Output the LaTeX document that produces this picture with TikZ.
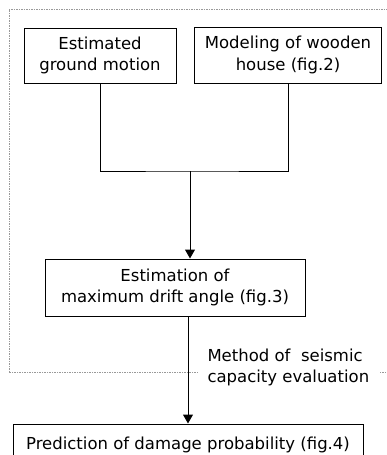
\documentclass[tikz,border=0pt]{standalone}
\usepackage{fontspec}
\setmainfont{DejaVu Sans}
\usetikzlibrary{positioning, arrows.meta}

\begin{document}
\begin{tikzpicture}[x=1pt, y=-1pt, >={Triangle[length=9pt, width=10pt]}, line width=1pt,
  block/.style={draw, align=center, inner sep=0pt},
  every node/.style={font=\fontsize{16.5}{21.5}\selectfont}]
\useasboundingbox (0,0) rectangle (387,455);
\clip (0,0) rectangle (387,455);
% Marco
\draw[gray!80, line width=0.6pt, dash pattern=on 1.5pt off 1pt] (9,372) -- (9,9) -- (397,9) -- (397,372) -- cycle;
% Bloques
\node[block, minimum width=152pt, minimum height=55pt] (ground) at (100,55.5) {Estimated\\ground motion};
\node[block, minimum width=187pt, minimum height=56pt] (house) at (288,55) {Modeling of wooden\\house (fig.2)};
\node[block, minimum width=260pt, minimum height=57pt] (drift) at (175,287.5) {Estimation of\\maximum drift angle (fig.3)};
\node[block, minimum width=350pt, minimum height=42pt] (damage) at (188,445) {Prediction of damage probability (fig.4)};
\node[fill=white, inner xsep=10pt, inner ysep=2pt, align=left, anchor=west] (method) at (197,367.5) {Method of\ \ seismic\\capacity evaluation};
% Conexiones
\coordinate (join) at (190,171);
\draw (ground.south) |- (join) -| (house.south);
\draw[->] (join) -- (join |- drift.north);
\draw[->] (damage.north |- drift.south) -- (damage.north);
\end{tikzpicture}
\end{document}
